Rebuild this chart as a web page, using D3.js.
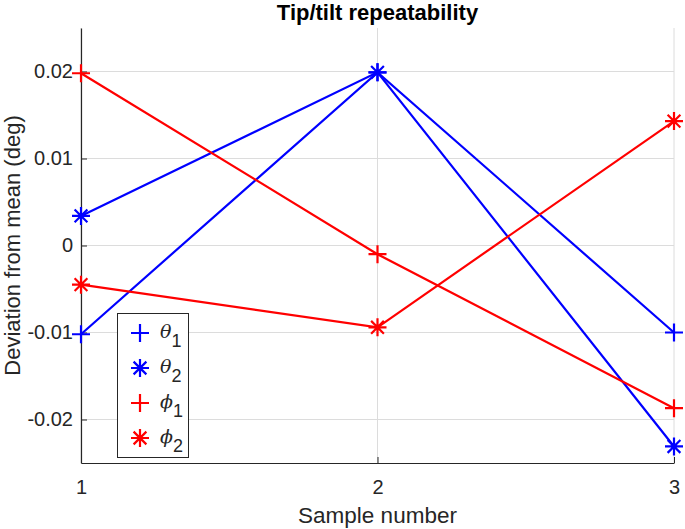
<!DOCTYPE html>
<html><head><meta charset="utf-8">
<script src="https://cdn.jsdelivr.net/npm/d3@7"></script>
<style>body{margin:0;background:#fff}svg{display:block}text{font-family:"Liberation Sans",Arial,sans-serif;fill:#262626}</style>
</head><body><svg id="c" width="685" height="529"></svg>
<script>
const samples = [1, 2, 3];
const theta1 = [-0.0102, 0.0199, -0.0100];
const theta2 = [0.0034, 0.0199, -0.0231];
const phi1 = [0.0198, -0.0010, -0.0187];
const phi2 = [-0.0045, -0.0094, 0.0143];
const xTicks = [1, 2, 3];
const yTicks = [-0.02, -0.01, 0, 0.01, 0.02];
const yTickLabels = ["-0.02", "-0.01", "0", "0.01", "0.02"];
const seriesDefs = [
  {name: "θ", sub: "1", values: theta1, color: "#0000ff", marker: "plus"},
  {name: "θ", sub: "2", values: theta2, color: "#0000ff", marker: "star"},
  {name: "ϕ", sub: "1", values: phi1, color: "#ff0000", marker: "plus"},
  {name: "ϕ", sub: "2", values: phi2, color: "#ff0000", marker: "star"}
];

const svg = d3.select("#c");
const L = 81, R = 674, T = 28, B = 463;
const x = d3.scaleLinear().domain([1, 3]).range([L, R]);
const y = d3.scaleLinear().domain([-0.025, 0.025]).range([B, T]);

// grid
const g = svg.append("g");
g.selectAll(".gx").data(xTicks).join("line")
  .attr("x1", d => x(d)).attr("x2", d => x(d)).attr("y1", T).attr("y2", B)
  .attr("stroke", "#dcdcdc").attr("stroke-width", 1);
g.selectAll(".gy").data(yTicks).join("line")
  .attr("x1", L).attr("x2", R).attr("y1", d => y(d)).attr("y2", d => y(d))
  .attr("stroke", "#dcdcdc").attr("stroke-width", 1);

// axes
const xAxis = d3.axisBottom(x).tickValues(xTicks).tickFormat(d3.format("d")).tickSizeInner(-6).tickSizeOuter(0).tickPadding(17);
const yAxis = d3.axisLeft(y).tickValues(yTicks).tickFormat((d, i) => yTickLabels[i]).tickSizeInner(-6).tickSizeOuter(0).tickPadding(8);
const gx = svg.append("g").attr("transform", `translate(0,${B})`).call(xAxis);
const gy = svg.append("g").attr("transform", `translate(${L},0)`).call(yAxis);
[gx, gy].forEach(a => {
  a.select(".domain").attr("stroke", "#262626").attr("stroke-width", 1.2);
  a.selectAll(".tick line").attr("stroke", "#262626");
  a.selectAll(".tick text").attr("font-size", 20).attr("fill", "#262626").style("font-family", '"Liberation Sans",Arial,sans-serif');
});
gx.selectAll(".tick text").attr("dy", "0.71em");

// lines
const line = d3.line().x((d, i) => x(samples[i])).y(d => y(d));
const plot = svg.append("g");
function drawMarker(sel, type, color, size) {
  const h = size / 2;
  if (type === "plus") {
    sel.append("path").attr("d", `M${-h},0H${h}M0,${-h}V${h}`);
  } else {
    const d = h * 0.71;
    sel.append("path").attr("d", `M${-h},0H${h}M0,${-h}V${h}M${-d},${-d}L${d},${d}M${-d},${d}L${d},${-d}`);
  }
  sel.selectAll("path").attr("stroke", color).attr("stroke-width", 2.2).attr("fill", "none");
}
seriesDefs.forEach(s => {
  plot.append("path").datum(s.values).attr("d", line)
    .attr("fill", "none").attr("stroke", s.color).attr("stroke-width", 2.2);
  s.values.forEach((v, i) => {
    const m = plot.append("g").attr("transform", `translate(${x(samples[i])},${y(v)})`);
    drawMarker(m, s.marker, s.color, 18);
  });
});

// legend
const lg = svg.append("g");
lg.append("rect").attr("x", 117.5).attr("y", 313.5).attr("width", 71).attr("height", 144)
  .attr("fill", "#fff").attr("stroke", "#262626").attr("stroke-width", 1);
seriesDefs.forEach((s, i) => {
  const cy = 333 + i * 35;
  const m = lg.append("g").attr("transform", `translate(140,${cy})`);
  drawMarker(m, s.marker, s.color, 18);
  const t = lg.append("text").attr("x", 160).attr("y", cy + 5).attr("font-size", 19);
  t.append("tspan").text(s.name).attr("font-style", "italic").style("font-family", '"DejaVu Serif","Liberation Serif",serif');
  t.append("tspan").text(s.sub).attr("dy", 9).attr("font-size", 18);
});

// title and labels
svg.append("text").attr("x", (L + R) / 2).attr("y", 20).attr("text-anchor", "middle")
  .attr("font-size", 22).attr("font-weight", "bold").style("fill", "#000").text("Tip/tilt repeatability");
svg.append("text").attr("x", (L + R) / 2).attr("y", 523).attr("text-anchor", "middle")
  .attr("font-size", 22.5).text("Sample number");
svg.append("text").attr("transform", `translate(20,${(T + B) / 2}) rotate(-90)`).attr("text-anchor", "middle")
  .attr("font-size", 22).text("Deviation from mean (deg)");
</script></body></html>
